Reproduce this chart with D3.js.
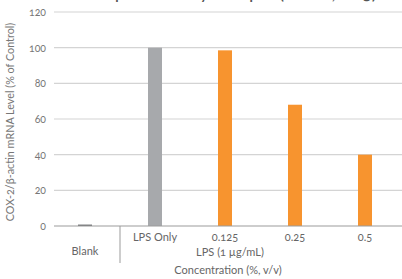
<!DOCTYPE html>
<html><head><meta charset="utf-8">
<script src="https://cdn.jsdelivr.net/npm/d3@7"></script>
<style>
body{margin:0;background:#fff;}
text{font-family:Lato,"Open Sans",sans-serif;font-variant-numeric:oldstyle-nums;}
</style></head>
<body><svg id="c" width="402" height="279"></svg>
<script>
const categories = ["Blank","LPS Only","0.125","0.25","0.5"];
const values = [0.8, 100, 98.5, 68, 40];
const barColors = ["#6d6e71","#a7a9ac","#f7942f","#f7942f","#f7942f"];
const yTicks = [0,20,40,60,80,100,120];
const groupLabel = "LPS (1 µg/mL)";
const xTitle = "Concentration (%, v/v)";
const yTitle = "COX-2/β-actin mRNA Level (% of Control)";
const title = "COX-2 Expression by Sample (Mean, n=3)";

const svg = d3.select("#c");
const x = d3.scaleBand().domain(categories).range([50,400]).paddingInner(0.8).paddingOuter(0.4);
const y = d3.scaleLinear().domain([0,120]).range([226,12]);

// title (clipped at top in the reference)
svg.append("text").attr("x",205).attr("y",-1).attr("text-anchor","middle")
  .attr("font-size",19).attr("fill","#555").text(title);

// gridlines
svg.append("g").selectAll("line").data(yTicks.filter(d=>d>0)).join("line")
  .attr("x1",54).attr("x2",402).attr("y1",d=>y(d)).attr("y2",d=>y(d))
  .attr("stroke","#d4d4d4").attr("stroke-width",1.2);

// y axis labels
const yAxis = d3.axisLeft(y).tickValues(yTicks).tickSize(0).tickPadding(0);
const ga = svg.append("g").attr("transform","translate(46,0)").call(yAxis);
ga.select(".domain").remove();
ga.selectAll("text").attr("font-size",10.5).attr("fill","#777").attr("font-family","Lato,sans-serif");

// bars
svg.append("g").selectAll("rect").data(categories).join("rect")
  .attr("x",d=>x(d)).attr("width",x.bandwidth())
  .attr("y",(d,i)=>y(values[i])).attr("height",(d,i)=>y(0)-y(values[i]))
  .attr("fill",(d,i)=>barColors[i]);

// baseline
svg.append("line").attr("x1",54).attr("x2",402).attr("y1",y(0)).attr("y2",y(0))
  .attr("stroke","#9b9b9b").attr("stroke-width",1.2);

// divider
const divX = (x("Blank")+x.bandwidth()+x("LPS Only"))/2;
svg.append("line").attr("x1",divX).attr("x2",divX).attr("y1",y(0)).attr("y2",263)
  .attr("stroke","#9b9b9b").attr("stroke-width",1);

// category labels
const cx = d => x(d)+x.bandwidth()/2;
svg.append("text").attr("x",cx("Blank")).attr("y",255).attr("text-anchor","middle")
  .attr("font-size",11).attr("fill","#666").text(categories[0]);
svg.append("g").selectAll("text").data(categories.slice(1)).join("text")
  .attr("x",cx).attr("y",241).attr("text-anchor","middle")
  .attr("font-size",11).attr("fill","#666").text(d=>d);
svg.append("text").attr("x",(cx("0.125")+cx("0.25"))/2 - 30).attr("y",256).attr("text-anchor","middle")
  .attr("font-size",11).attr("fill","#666").text(groupLabel);
svg.append("text").attr("x",228).attr("y",274).attr("text-anchor","middle")
  .attr("font-size",11).attr("fill","#666").text(xTitle);

// y title
svg.append("text").attr("transform","translate(14,122) rotate(-90)").attr("text-anchor","middle")
  .attr("font-size",10.8).attr("fill","#777").text(yTitle);
</script></body></html>
